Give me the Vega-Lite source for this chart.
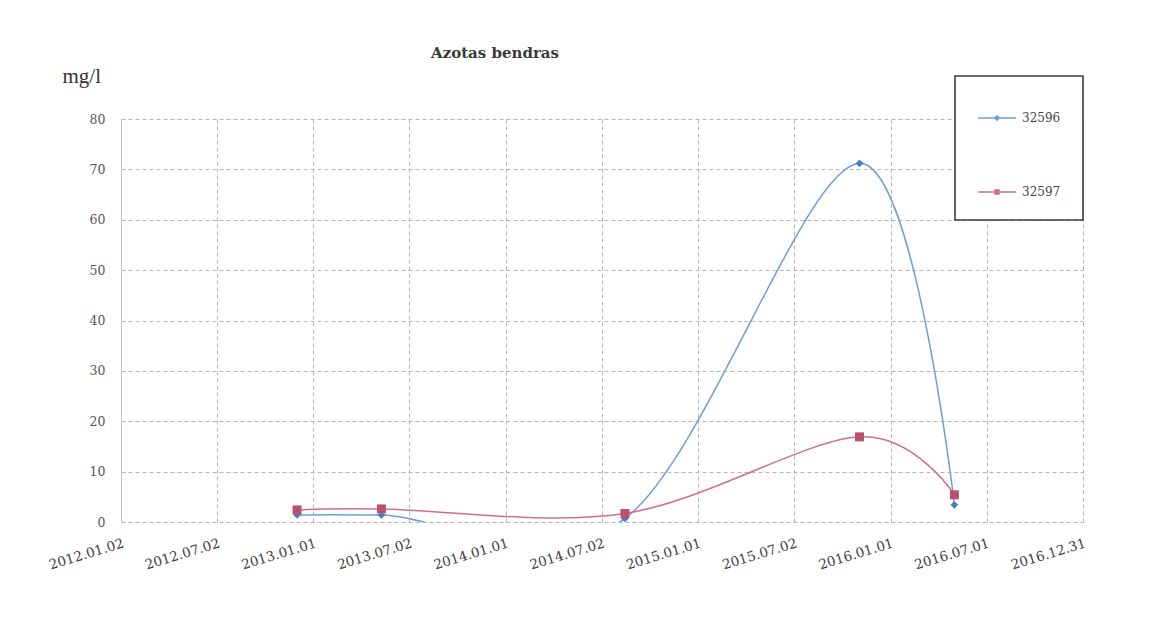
{
  "$schema": "https://vega.github.io/schema/vega-lite/v6.json",
  "width": 962,
  "height": 403,
  "autosize": {"type": "none"},
  "padding": {"left": 121, "top": 119, "right": 67, "bottom": 114},
  "background": "white",
  "title": {"text": "Azotas bendras", "anchor": "middle", "dx": -107, "offset": 4, "font": "DejaVu Serif", "fontSize": 15, "fontWeight": "bold", "color": "#3a3a3a"},
  "config": {"view": {"stroke": null}, "font": "DejaVu Serif"},
  "data": {"values": [
    {"date": "2012-12-01", "series": "32596", "value": 1.4},
    {"date": "2013-05-10", "series": "32596", "value": 1.4},
    {"date": "2014-08-15", "series": "32596", "value": 0.7},
    {"date": "2015-11-03", "series": "32596", "value": 71.2},
    {"date": "2016-05-01", "series": "32596", "value": 3.4},
    {"date": "2012-12-01", "series": "32597", "value": 2.4},
    {"date": "2013-05-10", "series": "32597", "value": 2.6},
    {"date": "2014-08-15", "series": "32597", "value": 1.7},
    {"date": "2015-11-03", "series": "32597", "value": 16.9},
    {"date": "2016-05-01", "series": "32597", "value": 5.4}
  ]},
  "encoding": {
    "x": {
      "field": "date", "type": "temporal",
      "scale": {"type": "utc", "domain": [{"year": 2012, "month": 1, "date": 2, "utc": true}, {"year": 2016, "month": 12, "date": 31, "utc": true}]},
      "axis": {
        "values": [
          {"year": 2012, "month": 1, "date": 2, "utc": true},
          {"year": 2012, "month": 7, "date": 2, "utc": true},
          {"year": 2013, "month": 1, "date": 1, "utc": true},
          {"year": 2013, "month": 7, "date": 2, "utc": true},
          {"year": 2014, "month": 1, "date": 1, "utc": true},
          {"year": 2014, "month": 7, "date": 2, "utc": true},
          {"year": 2015, "month": 1, "date": 1, "utc": true},
          {"year": 2015, "month": 7, "date": 2, "utc": true},
          {"year": 2016, "month": 1, "date": 1, "utc": true},
          {"year": 2016, "month": 7, "date": 1, "utc": true},
          {"year": 2016, "month": 12, "date": 31, "utc": true}
        ],
        "format": "%Y.%m.%d",
        "labelAngle": -17, "labelAlign": "right", "labelBaseline": "top",
        "labelFont": "DejaVu Serif", "labelFontSize": 13.5, "labelColor": "#404040", "labelPadding": 14, "labelOverlap": false, "labelFlush": false,
        "grid": true, "gridColor": "#b5b5b5", "gridDash": [4, 3],
        "domain": false, "ticks": false, "title": null
      }
    },
    "y": {
      "field": "value", "type": "quantitative",
      "scale": {"domain": [0, 80], "nice": false},
      "axis": {
        "values": [0, 10, 20, 30, 40, 50, 60, 70, 80],
        "labelFont": "DejaVu Serif", "labelFontSize": 12.5, "labelColor": "#555555", "labelPadding": 16,
        "grid": true, "gridColor": "#b5b5b5", "gridDash": [4, 3],
        "domainColor": "#c8c8c8", "ticks": false,
        "title": "mg/l", "titleAngle": 0, "titleX": -59, "titleY": -37,
        "titleAlign": "left", "titleBaseline": "alphabetic",
        "titleFontSize": 21, "titleFontWeight": "normal", "titleColor": "#333333", "titleFont": "Liberation Serif"
      }
    }
  },
  "layer": [
    {
      "mark": {"type": "line", "interpolate": "cardinal", "strokeWidth": 1.5, "clip": true},
      "encoding": {
        "color": {
          "field": "series", "type": "nominal",
          "scale": {"domain": ["32596", "32597"], "range": ["#6f9ed6", "#cf6f90"]},
          "legend": {
            "orient": "none", "legendX": 834, "legendY": -43, "title": null,
            "strokeColor": "#3a3a48", "fillColor": "white",
            "padding": 22, "rowPadding": 48, "labelOffset": 5,
            "labelFontSize": 12, "labelColor": "#444444", "labelFont": "DejaVu Serif",
            "symbolType": "M-1,0H1M-0.11,-0.11H0.11V0.11H-0.11Z", "symbolSize": 1444, "symbolStrokeWidth": 1.3,
            "encode": {
              "legend": {"update": {"strokeWidth": {"value": 1.6}}},
              "symbols": {"update": {
                "fill": {"signal": "datum.value == '32596' ? '#4c7cc0' : '#b8506e'"},
                "shape": {"signal": "datum.value == '32596' ? 'M-1,0H1M0,-0.12L0.12,0L0,0.12L-0.12,0Z' : 'M-1,0H1M-0.11,-0.11H0.11V0.11H-0.11Z'"}
              }}
            }
          }
        }
      }
    },
    {
      "transform": [{"filter": "datum.series == '32596'"}],
      "mark": {"type": "point", "shape": "diamond", "filled": true, "opacity": 1, "color": "#4c7cc0", "size": 60}
    },
    {
      "transform": [{"filter": "datum.series == '32597'"}],
      "mark": {"type": "point", "shape": "square", "filled": true, "opacity": 1, "color": "#b8506e", "size": 80}
    }
  ]
}
